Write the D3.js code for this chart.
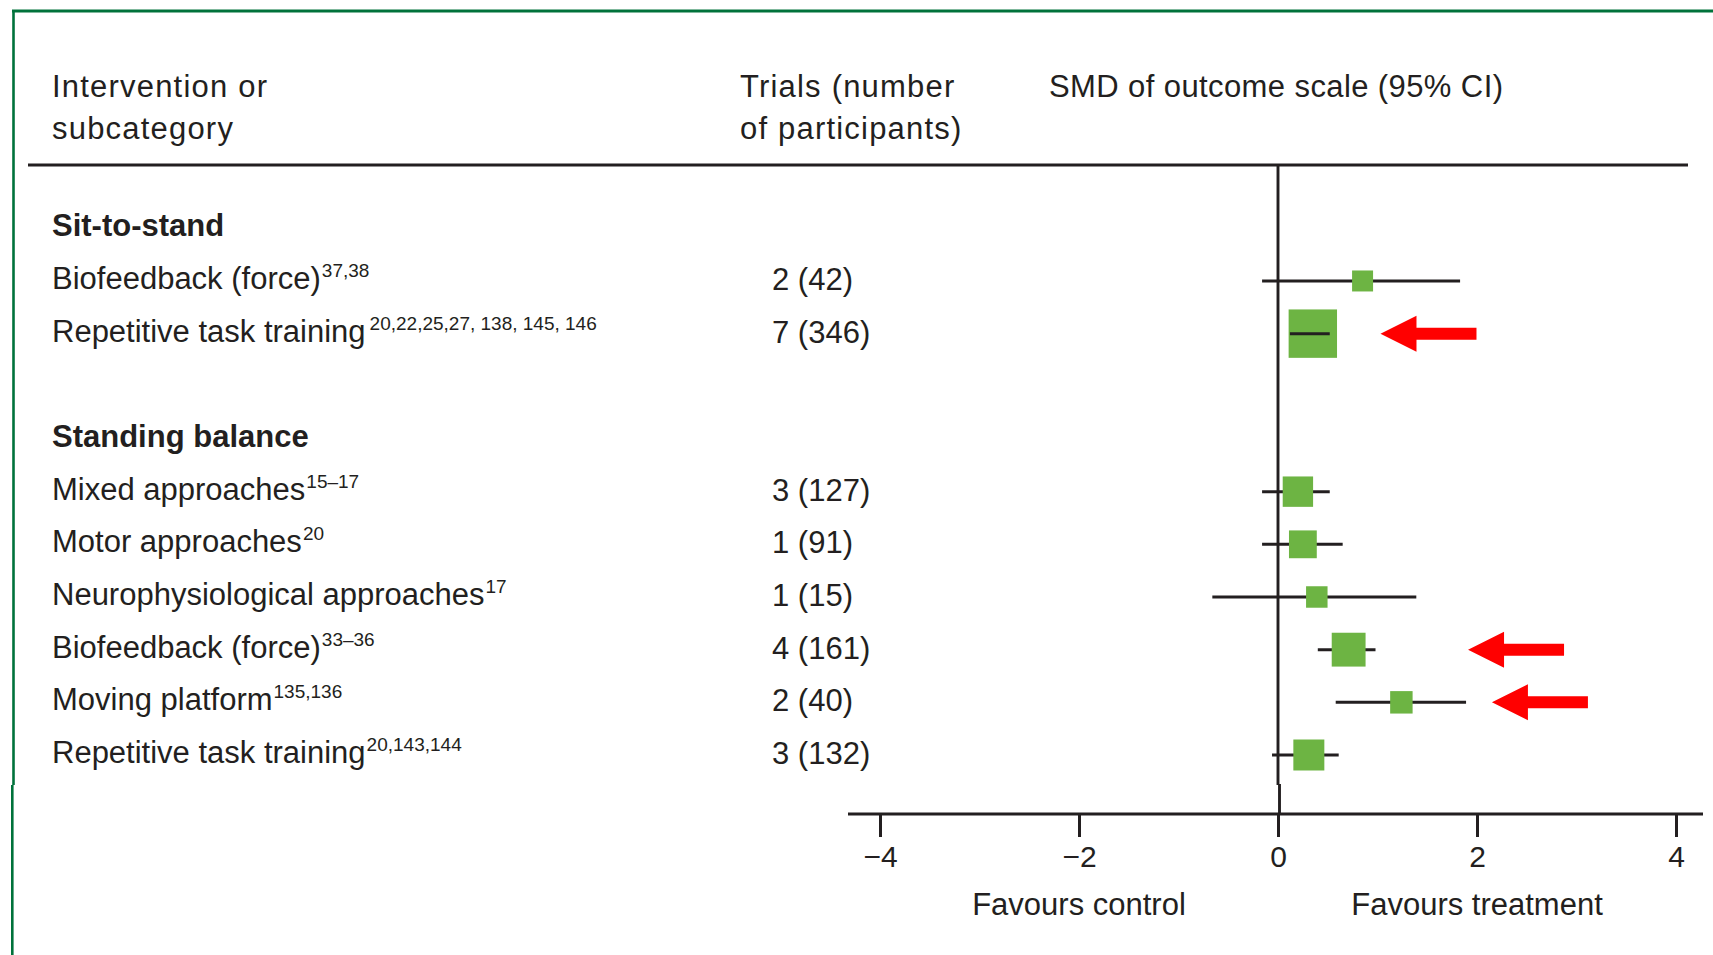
<!DOCTYPE html>
<html><head><meta charset="utf-8">
<script src="https://cdn.jsdelivr.net/npm/d3@7"></script>
<style>body{margin:0;background:#fff}svg{display:block}</style>
</head><body><svg id="chart" width="1713" height="955"></svg>
<script>
// ---------- data ----------
const labels = ["Sit-to-stand","Biofeedback (force)","Repetitive task training","","Standing balance","Mixed approaches","Motor approaches","Neurophysiological approaches","Biofeedback (force)","Moving platform","Repetitive task training"];
const refs = ["","37,38","20,22,25,27, 138, 145, 146","","","15\u201317","20","17","33\u201336","135,136","20,143,144"];
const isGroup = [true,false,false,false,true,false,false,false,false,false,false];
const trials = ["","2 (42)","7 (346)","","","3 (127)","1 (91)","1 (15)","4 (161)","2 (40)","3 (132)"];
const smd    = [null,0.85,0.35,null,null,0.20,0.25,0.39,0.71,1.24,0.31];
const ciLow  = [null,-0.16,0.12,null,null,-0.16,-0.16,-0.66,0.40,0.58,-0.06];
const ciHigh = [null,1.83,0.52,null,null,0.52,0.65,1.39,0.98,1.89,0.61];
const weight = [null,18.8,100,null,null,39.4,33,19.7,48.9,21.5,41];
const xTicks = [-4,-2,0,2,4];
const favoursText = ["Favours control","Favours treatment"];
const favoursAt = [-2,2];
const headers = [["Intervention or","subcategory"],["Trials (number","of participants)"],["SMD of outcome scale (95% CI)"]];
const arrowRows = [2,8,9];
const arrowTip = [1.03,1.91,2.15];

// ---------- layout ----------
const svg = d3.select("#chart");
const ink = "#231f20", green = "#6db443", frame = "#00723b", red = "#ff0000";
const font = "'Liberation Sans', Arial, sans-serif";
const fs = 31;

const x = d3.scaleLinear().domain([-4,4]).range([880,1676]);
const y = d3.scalePoint().domain(d3.range(labels.length)).range([228.3,755]);
const side = d3.scaleSqrt().domain([0,100]).range([0,48.4]);

// green frame
svg.append("path").attr("d","M12,11H1713").attr("stroke",frame).attr("stroke-width",2.8).attr("fill","none");
svg.append("path").attr("d","M13.5,10V785").attr("stroke",frame).attr("stroke-width",2.6).attr("fill","none");
svg.append("path").attr("d","M12.3,785V955").attr("stroke",frame).attr("stroke-width",2.6).attr("fill","none");

// headers
const hx = [52,740,1049];
headers.forEach((lines,i)=>{
  lines.forEach((t,j)=>{
    svg.append("text").attr("x",hx[i]).attr("y",97+j*42)
      .attr("font-family",font).attr("font-size",fs).attr("fill",ink)
      .attr("letter-spacing", i<2 ? 1.2 : 0.4).text(t);
  });
});
// header rule
svg.append("line").attr("x1",28).attr("x2",1688).attr("y1",165).attr("y2",165).attr("stroke",ink).attr("stroke-width",3);

// zero line
svg.append("line").attr("x1",x(0)).attr("x2",x(0)).attr("y1",165).attr("y2",785).attr("stroke",ink).attr("stroke-width",2.9);
svg.append("line").attr("x1",x(0)+1.5).attr("x2",x(0)+1.5).attr("y1",784).attr("y2",814).attr("stroke",ink).attr("stroke-width",2.9);

// row labels
labels.forEach((t,i)=>{
  if(!t) return;
  const tx = svg.append("text").attr("x",52).attr("y",y(i)+8)
    .attr("font-family",font).attr("font-size",fs).attr("fill",ink)
    .attr("font-weight",isGroup[i]?"bold":"normal").text(t);
  if(refs[i]){
    tx.append("tspan").attr("font-size",19).attr("dy",-12)
      .attr("dx", refs[i].length>12 ? 4 : 1).text(refs[i]);
  }
});
// trials
trials.forEach((t,i)=>{
  if(!t) return;
  svg.append("text").attr("x",772).attr("y",y(i)+9)
    .attr("font-family",font).attr("font-size",fs).attr("fill",ink).text(t);
});

// forest marks
const idx = d3.range(labels.length).filter(i=>smd[i]!==null);
const g = svg.append("g");
idx.forEach(i=>{
  const s = side(weight[i]);
  const inside = x(ciLow[i])>=x(smd[i])-s/2-0.5 && x(ciHigh[i])<=x(smd[i])+s/2+0.5;
  const ci = ()=>g.append("line").attr("x1",x(ciLow[i])).attr("x2",x(ciHigh[i]))
      .attr("y1",y(i)).attr("y2",y(i)).attr("stroke",ink).attr("stroke-width",3);
  if(!inside) ci();
  g.append("rect").attr("x",x(smd[i])-s/2).attr("y",y(i)-s/2)
    .attr("width",s).attr("height",s).attr("fill",green);
  if(inside) ci();
});

// arrows
arrowRows.forEach((r,k)=>{
  const tx = x(arrowTip[k]), ty = y(r);
  const p = d3.path();
  p.moveTo(tx,ty); p.lineTo(tx+36,ty-18); p.lineTo(tx+36,ty-6); p.lineTo(tx+96,ty-6);
  p.lineTo(tx+96,ty+6); p.lineTo(tx+36,ty+6); p.lineTo(tx+36,ty+18); p.closePath();
  svg.append("path").attr("d",p.toString()).attr("fill",red);
});

// x axis
svg.append("line").attr("x1",848).attr("x2",1703).attr("y1",814).attr("y2",814).attr("stroke",ink).attr("stroke-width",3);
const ax = svg.append("g").attr("transform","translate(0,814)")
  .call(d3.axisBottom(x).tickValues(xTicks).tickSize(23).tickSizeOuter(0)
    .tickFormat(d=> d<0 ? "\u2212"+Math.abs(d) : String(d)));
ax.select(".domain").remove();
ax.selectAll(".tick line").attr("stroke",ink).attr("stroke-width",3);
ax.selectAll(".tick text").attr("y",53).attr("dy",0).attr("fill",ink)
  .attr("font-family",font).attr("font-size",30);

// favours labels
favoursText.forEach((t,i)=>{
  svg.append("text").attr("x",x(favoursAt[i])).attr("y",915).attr("text-anchor","middle")
    .attr("font-family",font).attr("font-size",fs).attr("fill",ink).text(t);
});
</script></body></html>
